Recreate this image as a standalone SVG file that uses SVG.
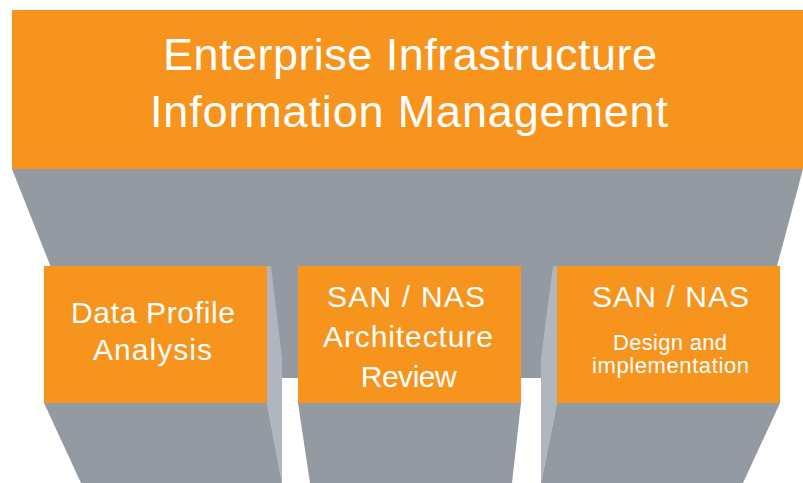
<svg xmlns="http://www.w3.org/2000/svg" width="803" height="483" viewBox="0 0 803 483">
  <style>
    .bar { fill: #F7941E; }
    .shade { fill: #949AA1; }
    .side { fill: #B1B6BE; }
    .lbl { fill: #FFFFFF; font-family: "Liberation Sans", Arial, Helvetica, sans-serif; text-anchor: middle; }
    .t1 { font-size: 45px; }
    .t2 { font-size: 30px; }
    .t3 { font-size: 22px; }
  </style>

  <!-- grey funnel and columns beneath the boxes -->
  <g id="connectors">
    <polygon class="shade" points="12,169 803,169 776,270 52,270"/>
    <rect class="shade" x="267" y="262" width="290" height="116"/>
    <polygon class="side" points="267,266 271,266 282,358 282,483 267,403"/>
    <polygon class="side" points="557,266 553,266 541,358 541,483 557,403"/>
    <polygon class="shade" points="44,403 267,403 282,483 81,483"/>
    <polygon class="shade" points="298,403 521,403 512,483 310,483"/>
    <polygon class="shade" points="557,403 780,403 743,483 541,483"/>
  </g>

  <g id="eiim">
    <rect class="bar" x="12" y="10" width="791" height="159"/>
    <text class="lbl t1" x="410" y="70" textLength="494" lengthAdjust="spacing">Enterprise Infrastructure</text>
    <text class="lbl t1" x="409" y="127" textLength="518" lengthAdjust="spacing">Information Management</text>
  </g>

  <g id="data-profile">
    <rect class="bar" x="44" y="266" width="223" height="137"/>
    <text class="lbl t2" x="153" y="323" textLength="164" lengthAdjust="spacing">Data Profile</text>
    <text class="lbl t2" x="152.5" y="360" textLength="119" lengthAdjust="spacing">Analysis</text>
  </g>

  <g id="san-nas-review">
    <rect class="bar" x="298" y="266" width="223" height="137"/>
    <text class="lbl t2" x="406" y="306.5" textLength="158" lengthAdjust="spacing">SAN / NAS</text>
    <text class="lbl t2" x="408" y="347" textLength="170" lengthAdjust="spacing">Architecture</text>
    <text class="lbl t2" x="408.7" y="387" textLength="96" lengthAdjust="spacing">Review</text>
  </g>

  <g id="san-nas-design">
    <rect class="bar" x="557" y="266" width="223" height="137"/>
    <text class="lbl t2" x="670.5" y="306.5" textLength="157" lengthAdjust="spacing">SAN / NAS</text>
    <text class="lbl t3" x="670" y="350" textLength="114" lengthAdjust="spacing">Design and</text>
    <text class="lbl t3" x="670.5" y="373" textLength="157" lengthAdjust="spacing">implementation</text>
  </g>
</svg>
